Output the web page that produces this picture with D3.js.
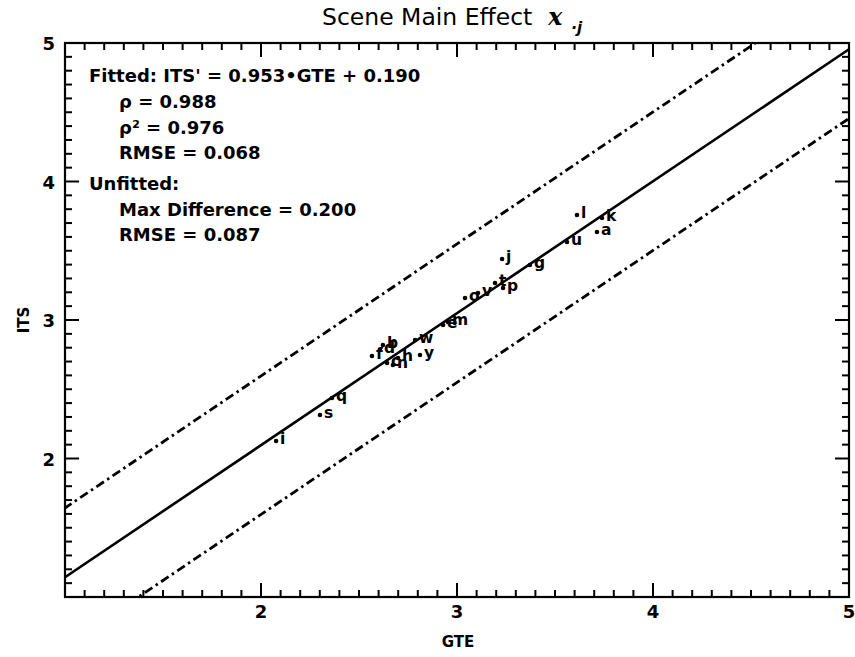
<!DOCTYPE html>
<html>
<head>
<meta charset="utf-8">
<script src="https://cdn.jsdelivr.net/npm/d3@7"></script>
<style>
  html, body { margin: 0; padding: 0; background: #fff; }
  svg { display: block; }
  text { font-family: "DejaVu Sans", "Liberation Sans", sans-serif; fill: #000; }
</style>
</head>
<body>
<svg id="chart" width="855" height="657"></svg>
<script>
// ---- Data ----
const scenes = ["i","s","q","f","d","b","c","n","h","y","w","e","m","o","v","t","p","j","g","u","l","a","k"];
const gteValues = [2.077,2.301,2.362,2.566,2.607,2.622,2.643,2.673,2.699,2.811,2.786,2.929,2.954,3.041,3.107,3.194,3.235,3.230,3.372,3.561,3.612,3.714,3.740];
const itsValues = [2.126,2.314,2.437,2.740,2.783,2.819,2.690,2.675,2.726,2.747,2.856,2.964,2.986,3.159,3.195,3.267,3.231,3.440,3.397,3.563,3.758,3.635,3.736];
const fitSlope = 0.953;
const fitIntercept = 0.190;
const bandOffset = 0.5;
const xTickLabels = [2,3,4,5];
const yTickLabels = [2,3,4,5];
const statLines = [
  {t: "Fitted: ITS' = 0.953\u2022GTE + 0.190", indent: 0},
  {t: "\u03C1 = 0.988", indent: 1},
  {t: "\u03C1\u00B2 = 0.976", indent: 1},
  {t: "RMSE = 0.068", indent: 1},
  {t: "Unfitted:", indent: 0},
  {t: "Max Difference = 0.200", indent: 1},
  {t: "RMSE = 0.087", indent: 1}
];

// ---- Layout ----
const svg = d3.select("#chart");
const L = 65, R = 849, T = 43, B = 597;
const x = d3.scaleLinear().domain([1,5]).range([L,R]);
const y = d3.scaleLinear().domain([1,5]).range([B,T]);

svg.append("defs").append("clipPath").attr("id","clip")
  .append("rect").attr("x",L).attr("y",T-1).attr("width",R-L).attr("height",B-T+2);

const plot = svg.append("g").attr("clip-path","url(#clip)");

const lineGen = d3.line().x(d=>x(d[0])).y(d=>y(d[1]));
const xs = [0.5, 5.5];
function lineData(off){ return xs.map(g=>[g, fitSlope*g + fitIntercept + off]); }

plot.append("path").attr("d", lineGen(lineData(0)))
  .attr("fill","none").attr("stroke","#000").attr("stroke-width",2.6);
[bandOffset, -bandOffset].forEach(off=>{
  plot.append("path").attr("d", lineGen(lineData(off)))
    .attr("fill","none").attr("stroke","#000").attr("stroke-width",2.8)
    .attr("stroke-dasharray","9,4,2.5,4");
});

// points
const pts = scenes.map((s,i)=>({s, g:gteValues[i], v:itsValues[i]}));
plot.selectAll("circle.pt").data(pts).enter().append("circle")
  .attr("class","pt").attr("cx",d=>x(d.g)).attr("cy",d=>y(d.v)).attr("r",2.3).attr("fill","#000");
plot.selectAll("text.lbl").data(pts).enter().append("text")
  .attr("class","lbl").attr("x",d=>x(d.g)+4).attr("y",d=>y(d.v)+3)
  .attr("font-size",15.5).attr("font-weight","bold").text(d=>d.s);

// axes box
svg.append("rect").attr("x",L).attr("y",T).attr("width",R-L).attr("height",B-T)
  .attr("fill","none").attr("stroke","#000").attr("stroke-width",2.2);

// ticks
const xMinor = d3.range(11,50).map(v=>v/10);
const yMinor = d3.range(11,50).map(v=>v/10);
function isMajor(v){ return Math.abs(v-Math.round(v))<1e-6; }
const tg = svg.append("g").attr("stroke","#000").attr("stroke-width",2);
xMinor.forEach(v=>{
  const len = isMajor(v)?14:7;
  tg.append("line").attr("x1",x(v)).attr("x2",x(v)).attr("y1",B).attr("y2",B-len);
  tg.append("line").attr("x1",x(v)).attr("x2",x(v)).attr("y1",T).attr("y2",T+len);
});
yMinor.forEach(v=>{
  const len = isMajor(v)?14:7;
  tg.append("line").attr("y1",y(v)).attr("y2",y(v)).attr("x1",L).attr("x2",L+len);
  tg.append("line").attr("y1",y(v)).attr("y2",y(v)).attr("x1",R).attr("x2",R-len);
});

// tick labels
svg.selectAll("text.xt").data(xTickLabels).enter().append("text")
  .attr("x",d=>x(d)).attr("y",B+21).attr("text-anchor","middle")
  .attr("font-size",18).attr("font-weight","bold").text(d=>d);
svg.selectAll("text.yt").data(yTickLabels).enter().append("text")
  .attr("x",L-10).attr("y",d=>y(d)+7).attr("text-anchor","end")
  .attr("font-size",18).attr("font-weight","bold").text(d=>d);

// axis titles
svg.append("text").attr("x",458).attr("y",647).attr("text-anchor","middle")
  .attr("font-size",15).attr("font-weight","bold").text("GTE");
svg.append("text").attr("transform","translate(29,320) rotate(-90)").attr("text-anchor","middle")
  .attr("font-size",15).attr("font-weight","bold").text("ITS");

// title
const title = svg.append("text").attr("x",322).attr("y",25).attr("font-size",23.5);
title.append("tspan").text("Scene Main Effect");
title.append("tspan").attr("dx",16).attr("font-style","italic").attr("font-weight","bold")
  .attr("font-family","'DejaVu Serif', serif").text("x");
title.append("tspan").attr("font-size",15).attr("dx",9).attr("dy",8).attr("font-weight","bold")
  .attr("font-style","italic").text("\u00B7j");

// stats text
const statBase = [82,108,134,159,190,216,241];
svg.selectAll("text.stat").data(statLines).enter().append("text")
  .attr("x",d=>d.indent?119:89)
  .attr("y",(d,i)=>statBase[i])
  .attr("font-size",18).attr("font-weight","bold").text(d=>d.t);
</script>
</body>
</html>
